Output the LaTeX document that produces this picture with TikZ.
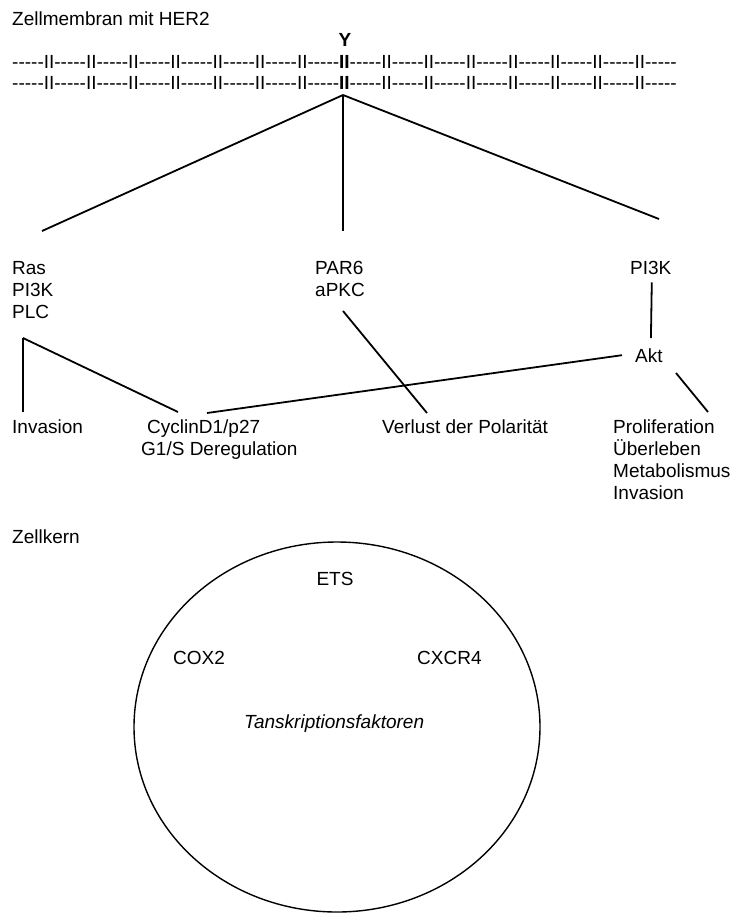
\documentclass[tikz,border=0pt]{standalone}
\usepackage{fontspec}
\setmainfont{Liberation Sans}
\usetikzlibrary{calc,shapes.geometric}

% one piece of the membrane: five hyphens (kerns stop the dash ligatures)
\newcommand{\hyph}{-\kern0pt-\kern0pt-\kern0pt-\kern0pt-\kern0pt}
\newcommand{\mseg}{\hyph II}
\newcommand{\membrane}{\mseg\mseg\mseg\mseg\mseg\mseg\mseg\hyph\textbf{II}\mseg\mseg\mseg\mseg\mseg\mseg\mseg\hyph}

\tikzset{
  lbl/.style={anchor=base west, inner sep=0pt, align=left,
    font=\fontsize{19}{22}\selectfont},
  link/.style={line width=1.8pt}
}

\begin{document}
\begin{tikzpicture}[x=1pt,y=-1pt]
\useasboundingbox (0,0) rectangle (731,914);

% membrane with receptor
\node[lbl] (title) at (12,25) {Zellmembran mit HER2};
\node[lbl, anchor=base] (her2) at (345,46) {\bfseries Y};
\node[lbl] (mem1) at (12,68) {\membrane};
\node[lbl] (mem2) at (12,89) {\membrane};
\coordinate (apex) at (343,95);

% pathways (multi-line nodes sit on their last line)
\node[lbl] (ras) at (12,318) {Ras\\PI3K\\PLC};
\node[lbl] (par) at (315,296) {PAR6\\aPKC};
\node[lbl] (pik) at (630,274) {PI3K};
\node[lbl] (akt) at (635,362) {Akt};

\coordinate (rasin) at (42,231);
\coordinate (parin) at (343,231);
\coordinate (pikin) at (659,219);
\draw[link] (apex) -- (rasin);
\draw[link] (apex) -- (parin);
\draw[link] (apex) -- (pikin);

% effects
\node[lbl] (inv) at (12,433) {Invasion};
\node[lbl] (cyc) at (141,455) {\hspace*{6pt}CyclinD1/p27\\G1/S Deregulation};
\node[lbl] (pol) at (382,433) {Verlust der Polarität};
\node[lbl] (pro) at (613,499) {Proliferation\\Überleben\\Metabolismus\\Invasion};

\coordinate (rasout) at (23,338);
\draw[link] (rasout) -- (23,412);
\draw[link] (rasout) -- (178,412);
\draw[link] ($(pik.south)+(1,8)$) -- ($(akt.north)+(2,-10)$);
\draw[link] (207,413) -- ($(akt.west)+(-13,0)$);
\draw[link] (343,311) -- (427,413);
\draw[link] (676,373) -- (708,412);

% nucleus
\node[lbl] (kern) at (12,543) {Zellkern};
\node[draw, ellipse, line width=1.4pt, minimum width=406pt, minimum height=370pt, inner sep=0pt] (nuc) at (337,727) {};
\node[lbl, anchor=base] (ets) at (335,585) {ETS};
\node[lbl] (cox) at (173,664) {COX2};
\node[lbl] (cxcr) at (417,664) {CXCR4};
\node[lbl] (tf) at (244,728) {\itshape Tanskriptionsfaktoren};
\end{tikzpicture}
\end{document}
